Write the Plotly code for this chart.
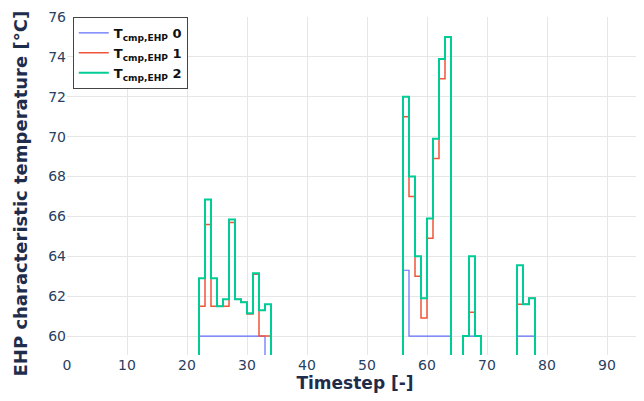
import plotly.graph_objects as go

timesteps = list(range(96))

def series(points):
    vals = [0.0] * len(timesteps)
    for t, v in points.items():
        vals[t] = v
    return vals

t_cmp_0 = series({
    22: 60, 23: 60, 24: 60, 25: 60, 26: 60, 27: 60, 28: 60, 29: 60, 30: 60, 31: 60, 32: 60,
    56: 63.3, 57: 60, 58: 60, 59: 60, 60: 60, 61: 60, 62: 60, 63: 60,
    66: 60, 67: 60, 68: 60,
    75: 60, 76: 60, 77: 60,
})
t_cmp_1 = series({
    22: 61.5, 23: 65.6, 24: 61.5, 25: 61.5, 26: 61.5, 27: 65.7, 28: 61.85, 29: 61.7,
    30: 61.1, 31: 63.1, 32: 60, 33: 60,
    56: 71, 57: 67, 58: 63, 59: 60.9, 60: 64.9, 61: 68.9, 62: 72.9, 63: 75,
    66: 60, 67: 61.2, 68: 60,
    75: 61.6, 76: 61.6, 77: 61.9,
})
t_cmp_2 = series({
    22: 62.9, 23: 66.85, 24: 62.9, 25: 61.5, 26: 61.85, 27: 65.85, 28: 61.85, 29: 61.7,
    30: 61.15, 31: 63.15, 32: 61.3, 33: 61.6,
    56: 72, 57: 68, 58: 64, 59: 61.9, 60: 65.9, 61: 69.9, 62: 73.9, 63: 75,
    66: 60, 67: 64, 68: 60,
    75: 63.55, 76: 61.6, 77: 61.9,
})

names = ["<b>T<sub>cmp,EHP</sub> 0</b>", "<b>T<sub>cmp,EHP</sub> 1</b>", "<b>T<sub>cmp,EHP</sub> 2</b>"]
colors = ["#636efa", "#EF553B", "#00cc96"]
widths = [1.2, 1.5, 2]
y_title = "<b>EHP characteristic temperature [°C]</b>"

fig = go.Figure()
for vals, name, c, w in zip([t_cmp_0, t_cmp_1, t_cmp_2], names, colors, widths):
    fig.add_trace(go.Scatter(x=timesteps, y=vals, mode="lines", name=name,
                             line=dict(color=c, width=w, shape="hv")))

axis_font = dict(family="DejaVu Sans", size=14, color="#2a3f5f")
fig.update_layout(
    width=636, height=393,
    margin=dict(l=59, r=1, t=6, b=46),
    paper_bgcolor="white", plot_bgcolor="white",
    font=dict(family="DejaVu Sans", color="#2a3f5f"),
    legend=dict(x=0.01, y=1.0, xanchor="left", yanchor="top",
                bgcolor="white", bordercolor="#444", borderwidth=1,
                font=dict(family="DejaVu Sans", size=13, color="#111"),
                tracegroupgap=0),
    xaxis=dict(range=[0, 96], dtick=10, showgrid=True, gridcolor="#e6e6e6",
               zeroline=False, tickfont=axis_font, ticks="",
               title=dict(text="<b>Timestep [-]</b>",
                          font=dict(family="DejaVu Sans", size=17, color="#1f2d4d"), standoff=2)),
    yaxis=dict(range=[59.05, 76.001], tickvals=[60, 62, 64, 66, 68, 70, 72, 74, 76],
               showgrid=True, gridcolor="#e6e6e6", ticklabeloverflow="allow",
               zeroline=False, tickfont=axis_font, ticks=""),
)
fig.add_annotation(text=y_title, textangle=-90, xref="paper", yref="paper",
                   x=0, y=0.478, xanchor="center", yanchor="middle", xshift=-47,
                   showarrow=False,
                   font=dict(family="DejaVu Sans", size=18, color="#1f2d4d"))

fig.write_html("out.html")
